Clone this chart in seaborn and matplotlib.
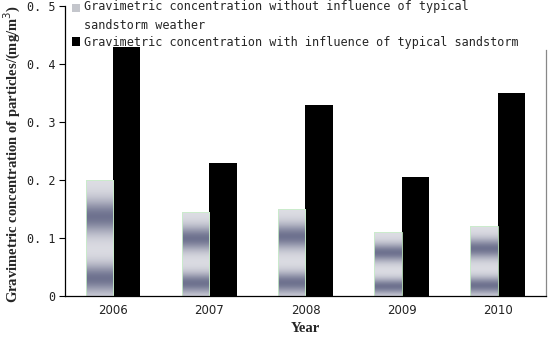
import matplotlib
matplotlib.use('Agg')
import matplotlib.pyplot as plt
import numpy as np
import pandas as pd
import seaborn as sns
from matplotlib.colors import LinearSegmentedColormap
from matplotlib.patches import Patch, Rectangle
from matplotlib.legend_handler import HandlerPatch

years = ['2006', '2007', '2008', '2009', '2010']
without_sandstorm = [0.200, 0.145, 0.150, 0.110, 0.120]
with_sandstorm = [0.430, 0.230, 0.330, 0.205, 0.350]
series_names = ['Gravimetric concentration without influence of typical\nsandstorm weather',
                'Gravimetric concentration with influence of typical sandstorm']
y_ticks = [0, 0.1, 0.2, 0.3, 0.4, 0.5]
y_tick_labels = ['0', '0. 1', '0. 2', '0. 3', '0. 4', '0. 5']

df = pd.DataFrame({
    'Year': years * 2,
    'value': without_sandstorm + with_sandstorm,
    'series': [series_names[0]] * len(years) + [series_names[1]] * len(years),
})

sns.set_style('white')
plt.rcParams['font.family'] = ['DejaVu Sans']

fig = plt.figure(figsize=(5.53, 3.38), dpi=100)
ax = fig.add_axes([0.1175, 0.124, 0.8698, 0.858])

sns.barplot(data=df, x='Year', y='value', hue='series', hue_order=series_names,
            palette=['#d0d0d6', 'black'], width=0.57, saturation=1,
            linewidth=0, legend=False, ax=ax)

# banded grey gradient for the first series
band = LinearSegmentedColormap.from_list('band', ['#f2f2f4', '#686c8a'])
t = np.linspace(0, 1, 200)
dark = np.exp(-((t - 0.15) / 0.12) ** 2) + np.exp(-((t - 0.68) / 0.14) ** 2)
dark = np.clip(dark * 0.8 + 0.15, 0, 1)[:, None]
for p in ax.patches[:len(years)]:
    x0, y0 = p.get_x(), p.get_y()
    w, h = p.get_width(), p.get_height()
    im = ax.imshow(dark, cmap=band, vmin=0, vmax=1, origin='lower', aspect='auto',
                   extent=[x0, x0 + w, y0, y0 + h], zorder=p.get_zorder() + 0.1)
    im.set_clip_path(p)
    ax.add_patch(Rectangle((x0, y0), w, h, fill=False, edgecolor='#c8eec8',
                           linewidth=0.6, zorder=p.get_zorder() + 0.2))

ax.set_xlim(-0.5, 4.5)
ax.set_ylim(0, 0.5)
ax.set_yticks(y_ticks)
ax.set_yticklabels(y_tick_labels, family='DejaVu Sans Mono', fontsize=8.5, color='#222222')
ax.set_xticks(range(len(years)))
ax.set_xticklabels(years, fontsize=8.5, color='#222222')
ax.set_xticks(np.arange(0.5, len(years), 1), minor=True)
ax.tick_params(axis='x', which='major', length=0, pad=6)
ax.tick_params(axis='x', which='minor', direction='in', length=4, width=0.8, color='black')
ax.tick_params(axis='y', direction='out', length=4, width=0.8, color='black', pad=3, left=True)

for s in ['left', 'bottom']:
    ax.spines[s].set_color('black')
    ax.spines[s].set_linewidth(0.9)
ax.spines['top'].set_visible(False)
ax.spines['right'].set_color('#888888')
ax.spines['right'].set_linewidth(0.9)
ax.spines['right'].set_bounds(0, 0.425)

ax.set_xlabel('Year', family='Liberation Serif', fontweight='bold', fontsize=10.5, labelpad=3)
ax.set_ylabel('Gravimetric concentration of particles/(mg/m$^3$)', family='Liberation Serif',
              fontweight='bold', fontsize=10.5)
ax.yaxis.set_label_coords(-0.088, 0.49)


def first_line_square(legend, orig_handle, xdescent, ydescent, width, height, fontsize):
    # put the marker next to the first line of a two-line label
    return Rectangle((-xdescent, -ydescent + 0.75 * fontsize), width, height)


handles = [Patch(facecolor='#c4c6cc', edgecolor='none'), Patch(facecolor='black', edgecolor='none')]
leg = ax.legend(handles, series_names, loc='upper left', bbox_to_anchor=(0.0, 1.045), frameon=False,
                prop={'family': 'DejaVu Sans Mono', 'size': 8.5}, handlelength=0.7, handleheight=0.7,
                handletextpad=0.3, labelspacing=0.35, borderaxespad=0.2,
                handler_map={handles[0]: HandlerPatch(patch_func=first_line_square)})
for txt in leg.get_texts():
    txt.set_linespacing(1.55)

fig.savefig('out.png', dpi=100)
